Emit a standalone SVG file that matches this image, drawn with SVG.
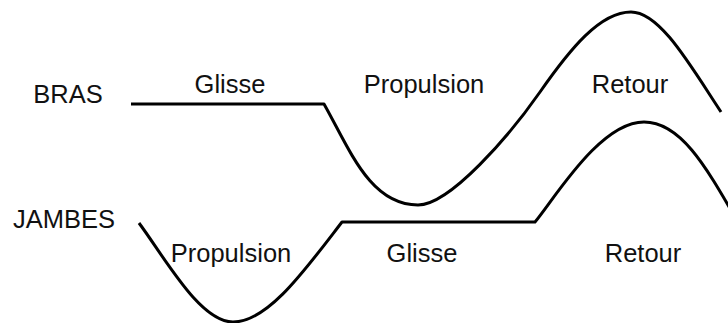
<svg xmlns="http://www.w3.org/2000/svg" width="728" height="323" viewBox="0 0 728 323">
<style>
.lbl{font-family:"Liberation Sans",Arial,sans-serif;font-size:25.5px;fill:#111;text-anchor:middle}
.crv{fill:none;stroke:#000;stroke-width:3;stroke-linejoin:round}
</style>
<rect width="728" height="323" fill="#fff"/>
<g id="curves">
<path id="bras-curve" class="crv" d="M131,104 H324 C350,150 370,205 418,205 C450,205 510,135 540,92 C570,49 600,12 631,12 C660,12 690,65 721,112"/>
<path id="jambes-curve" class="crv" d="M139,223 C165,258 200,322 233,322 C268,322 305,270 342,222 H535 C555,198 600,122 644,122 C680,122 705,165 735,217"/>
</g>
<g id="labels">
<text id="bras" class="lbl" x="68" y="103">BRAS</text>
<text id="jambes" class="lbl" x="64" y="228">JAMBES</text>
<text class="lbl" x="230" y="93">Glisse</text>
<text class="lbl" x="424" y="93">Propulsion</text>
<text class="lbl" x="630" y="93">Retour</text>
<text class="lbl" x="231" y="262">Propulsion</text>
<text class="lbl" x="422" y="262">Glisse</text>
<text class="lbl" x="643" y="262">Retour</text>
</g>
</svg>
